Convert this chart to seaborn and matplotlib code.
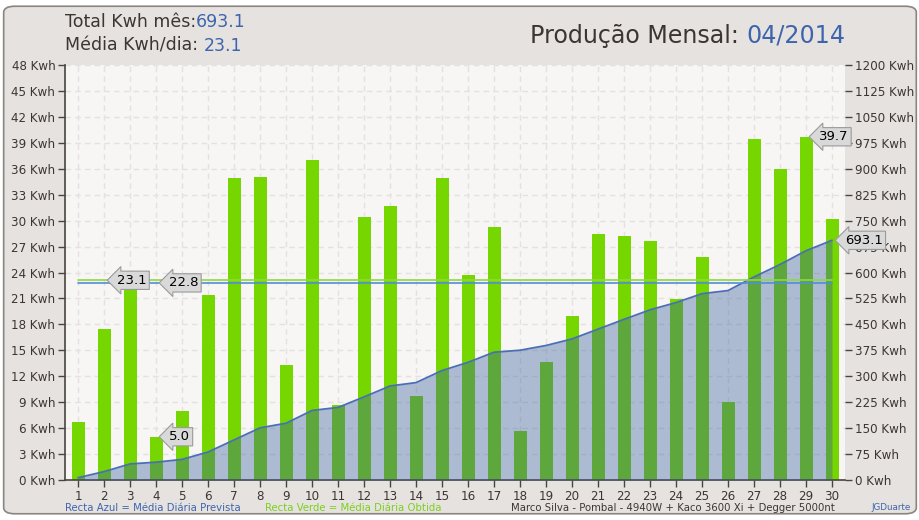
import numpy as np
import pandas as pd
import matplotlib.pyplot as plt
import seaborn as sns
from matplotlib.patches import FancyBboxPatch

# daily production (Kwh) for 04/2014
days = list(range(1, 31))
daily_kwh = [6.7, 17.5, 22.3, 5.0, 8.0, 21.4, 34.9, 35.0, 13.3, 37.0,
             8.7, 30.4, 31.7, 9.7, 34.9, 23.7, 29.3, 5.7, 13.7, 19.0,
             28.4, 28.2, 27.6, 20.9, 25.8, 9.0, 39.4, 36.0, 39.7, 30.2]
media_prevista = 22.8   # blue line
media_obtida = 23.1     # green line
total_mes = 693.1
left_ticks = list(range(0, 49, 3))
right_ticks = list(range(0, 1201, 75))

df = pd.DataFrame({'dia': days, 'kwh': daily_kwh})
df['acumulado'] = df['kwh'].cumsum()

dark = '#3c3631'
blue = '#3d64ad'
green = '#76d600'

sns.set_theme(style='white')
plt.rcParams['font.family'] = ['DejaVu Sans']

fig = plt.figure(figsize=(9.2, 5.2), dpi=100)
fig.patch.set_facecolor('white')
fig.patches.append(FancyBboxPatch((0.004, 0.012), 0.992, 0.976,
                                  boxstyle='round,pad=0,rounding_size=0.012',
                                  transform=fig.transFigure, facecolor='#e6e2df',
                                  edgecolor='#8a8581', linewidth=1.2, zorder=-10))

ax = fig.add_axes([0.0707, 0.0769, 0.8478, 0.7981])
ax.set_facecolor('#f7f6f5')

sns.barplot(data=df, x='dia', y='kwh', native_scale=True, width=0.5,
            color=green, saturation=1, edgecolor='none', ax=ax, zorder=2)

ax.set_xlim(0.5, 30.5)
ax.set_ylim(0, 48)
ax.set_xticks(days)
ax.set_xticklabels([str(d) for d in days])
ax.set_yticks(left_ticks)
ax.set_yticklabels([f'{v} Kwh' for v in left_ticks])
ax.set_xlabel('')
ax.set_ylabel('')
ax.grid(True, color='#e4e1de', linestyle=(0, (4, 3)), linewidth=1, zorder=0)
ax.set_axisbelow(True)
for s in ['top', 'right']:
    ax.spines[s].set_visible(False)
for s in ['left', 'bottom']:
    ax.spines[s].set_color('#4a4440')
    ax.spines[s].set_linewidth(1.2)
ax.tick_params(axis='both', colors='#4a4440', labelcolor=dark, labelsize=8.6,
               direction='out', length=5, width=1, left=True, bottom=True)
ax.tick_params(axis='x', pad=2)
ax.tick_params(axis='y', pad=2)

# cumulative production on right axis
ax2 = ax.twinx()
ax2.fill_between(df['dia'], 0, df['acumulado'], color='#385f9b', alpha=0.39,
                 linewidth=0, zorder=1)
sns.lineplot(data=df, x='dia', y='acumulado', color='#4a6fb5', linewidth=1.3, ax=ax2)
ax2.set_ylim(0, 1200)
ax2.set_yticks(right_ticks)
ax2.set_yticklabels([f'{v} Kwh' for v in right_ticks])
ax2.set_ylabel('')
for s in ax2.spines.values():
    s.set_visible(False)
ax2.tick_params(axis='y', colors='#4a4440', labelcolor=dark, labelsize=8.6,
                direction='out', length=5, width=1, right=True, pad=2)

# average lines (left scale)
ax2.plot([days[0], days[-1]], [media_obtida] * 2, color='#8fd840', linewidth=1.2,
         transform=ax.transData, zorder=5)
ax2.plot([days[0], days[-1]], [media_prevista] * 2, color='#4f8fd6', linewidth=1.2,
         transform=ax.transData, zorder=5)

callout = dict(boxstyle='larrow,pad=0.2', facecolor='#d9d9d9', edgecolor='#9a9a9a',
               linewidth=0.8)


def tag(x, y, txt, trans):
    ax2.text(x, y, txt, transform=trans, fontsize=9.5, color='black',
             ha='left', va='center', bbox=callout, zorder=10)


tag(2.5, media_obtida, f'{media_obtida:.1f}', ax.transData)
tag(4.5, media_prevista, f'{media_prevista:.1f}', ax.transData)
imin = int(np.argmin(daily_kwh))
imax = int(np.argmax(daily_kwh))
tag(days[imin] + 0.5, daily_kwh[imin], f'{daily_kwh[imin]:.1f}', ax.transData)
tag(days[imax] + 0.5, daily_kwh[imax], f'{daily_kwh[imax]:.1f}', ax.transData)
tag(days[-1] + 0.5, total_mes, f'{total_mes:.1f}', ax2.transData)

# header texts
t1 = fig.text(0.0707, 0.958, 'Total Kwh mês:', fontsize=12.5, color=dark, va='center')
ax.annotate(f'{total_mes:.1f}', xy=(1, 0), xycoords=t1, fontsize=12.5,
            color=blue, va='bottom', ha='left', annotation_clip=False)
t2 = fig.text(0.0707, 0.912, 'Média Kwh/dia: ', fontsize=12.5, color=dark, va='center')
ax.annotate(f'{media_obtida:.1f}', xy=(1, 0), xycoords=t2, fontsize=12.5,
            color=blue, va='bottom', ha='left', annotation_clip=False)

t3 = fig.text(0.9185, 0.931, '04/2014', fontsize=17.1, color=blue, va='center', ha='right')
ax.annotate('Produção Mensal: ', xy=(0, 0), xycoords=t3, fontsize=17.1,
            color=dark, va='bottom', ha='right', annotation_clip=False)

# footer
fig.text(0.0707, 0.024, 'Recta Azul = Média Diária Prevista', fontsize=7.3, color=blue, va='center')
fig.text(0.288, 0.024, 'Recta Verde = Média Diária Obtida', fontsize=7.3, color='#7ad11a', va='center')
fig.text(0.908, 0.024, 'Marco Silva - Pombal - 4940W + Kaco 3600 Xi + Degger 5000nt',
         fontsize=7.3, color=dark, va='center', ha='right')
fig.text(0.99, 0.024, 'JGDuarte', fontsize=6.3, color=blue, va='center', ha='right')

plt.savefig('out.png', dpi=100, facecolor=fig.get_facecolor())
